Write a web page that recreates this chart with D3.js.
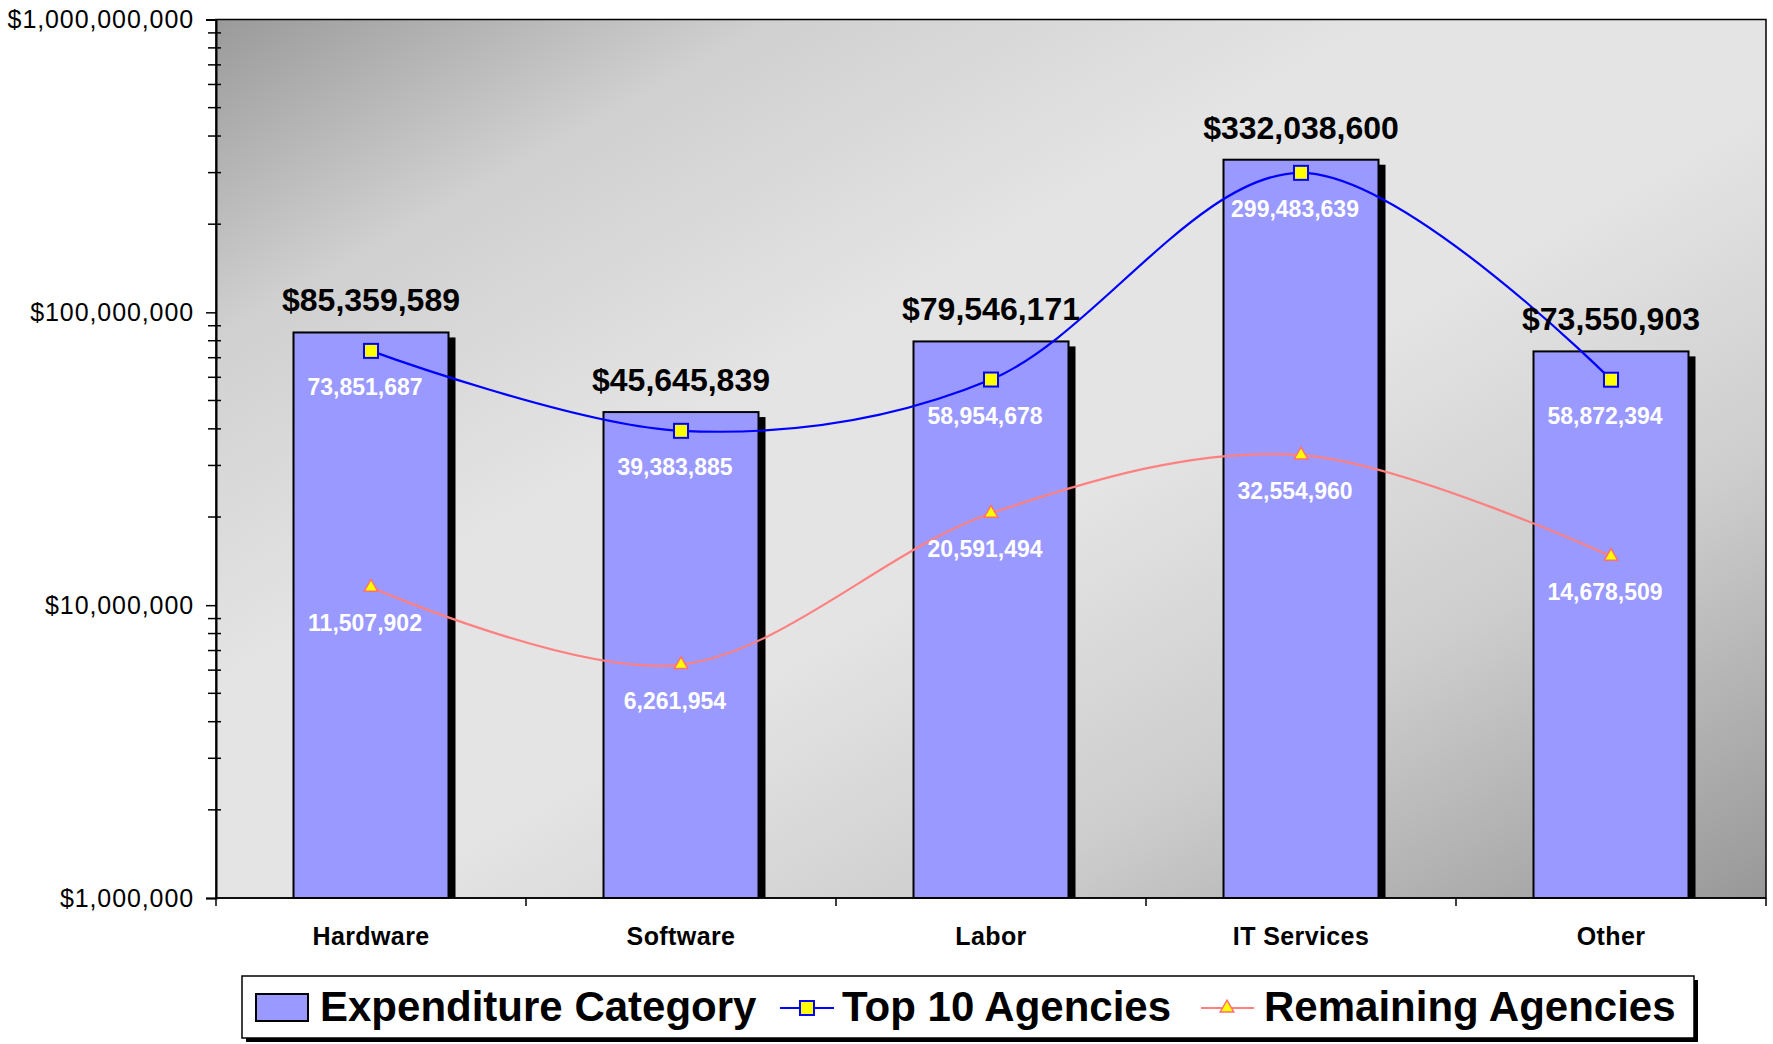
<!DOCTYPE html>
<html>
<head>
<meta charset="utf-8">
<script src="https://cdn.jsdelivr.net/npm/d3@7"></script>
<style>
  html, body { margin: 0; padding: 0; background: #ffffff; }
  svg { display: block; }
  text { font-family: "Liberation Sans", Arial, sans-serif; }
</style>
</head>
<body>
<svg id="chart" width="1773" height="1044"></svg>
<script>
// ---------- data ----------
const categories = ["Hardware", "Software", "Labor", "IT Services", "Other"];
const totals     = [85359589, 45645839, 79546171, 332038600, 73550903];
const top10      = [73851687, 39383885, 58954678, 299483639, 58872394];
const remaining  = [11507902, 6261954, 20591494, 32554960, 14678509];
const yTickValues = [1e6, 1e7, 1e8, 1e9];
const seriesNames = ["Expenditure Category", "Top 10 Agencies", "Remaining Agencies"];

// ---------- layout ----------
const W = 1773, H = 1044;
const plot = { left: 216, top: 19.5, right: 1766, bottom: 898 };

const svg = d3.select("#chart");

const x = d3.scaleBand()
  .domain(categories)
  .range([plot.left, plot.right])
  .paddingInner(0.5)
  .paddingOuter(0.25);

const y = d3.scaleLog()
  .domain([1e6, 1e9])
  .range([plot.bottom, plot.top]);

const fmt = d3.format(",");

// background gradient
const defs = svg.append("defs");
const grad = defs.append("linearGradient")
  .attr("id", "bg").attr("x1", 0).attr("y1", 0).attr("x2", 1).attr("y2", 1);
[[0, "#9a9a9a"], [0.18, "#d0d0d0"], [0.38, "#e4e4e4"], [0.55, "#e4e4e4"], [0.75, "#cdcdcd"], [1, "#989898"]]
  .forEach(([o, c]) => grad.append("stop").attr("offset", o).attr("stop-color", c));

svg.append("rect")
  .attr("x", plot.left).attr("y", plot.top)
  .attr("width", plot.right - plot.left).attr("height", plot.bottom - plot.top)
  .attr("fill", "url(#bg)")
  .attr("stroke", "#000").attr("stroke-width", 1.5);

// ---------- y axis ----------
const yAxis = d3.axisLeft(y)
  .tickValues(yTickValues)
  .tickSize(10)
  .tickPadding(12)
  .tickFormat(d => "$" + fmt(d));

const gy = svg.append("g")
  .attr("transform", `translate(${plot.left},0)`)
  .call(yAxis);
gy.select(".domain").attr("stroke", "#000").attr("stroke-width", 2);
gy.selectAll(".tick line").attr("stroke", "#000").attr("stroke-width", 1.5);
gy.selectAll(".tick text")
  .attr("font-size", 25)
  .attr("letter-spacing", 0.9)
  .attr("fill", "#000")
  .attr("font-family", "Liberation Sans, Arial, sans-serif");

// minor ticks
const minor = [];
for (let e = 6; e < 9; e++) for (let m = 2; m <= 9; m++) minor.push(m * Math.pow(10, e));
svg.append("g").selectAll("line").data(minor).join("line")
  .attr("x1", plot.left - 8).attr("x2", plot.left + 5)
  .attr("y1", d => y(d)).attr("y2", d => y(d))
  .attr("stroke", "#000").attr("stroke-width", 1.5);

// ---------- x axis ----------
const boundaries = d3.range(categories.length + 1).map(i => plot.left + i * (plot.right - plot.left) / categories.length);
svg.append("line")
  .attr("x1", plot.left).attr("x2", plot.right)
  .attr("y1", plot.bottom).attr("y2", plot.bottom)
  .attr("stroke", "#000").attr("stroke-width", 1.5);
svg.append("g").selectAll("line").data(boundaries).join("line")
  .attr("x1", d => d).attr("x2", d => d)
  .attr("y1", plot.bottom).attr("y2", plot.bottom + 8)
  .attr("stroke", "#000").attr("stroke-width", 1.5);
svg.append("g").selectAll("text").data(categories).join("text")
  .attr("x", d => x(d) + x.bandwidth() / 2)
  .attr("y", 945)
  .attr("text-anchor", "middle")
  .attr("font-size", 25)
  .attr("font-weight", "bold")
  .attr("letter-spacing", 0.4)
  .text(d => d);

// ---------- bars ----------
const barData = categories.map((c, i) => ({ c, v: totals[i] }));
const gBars = svg.append("g");
gBars.selectAll("rect.shadow").data(barData).join("rect")
  .attr("class", "shadow")
  .attr("x", d => x(d.c) + 7)
  .attr("y", d => y(d.v) + 5)
  .attr("width", x.bandwidth())
  .attr("height", d => plot.bottom - y(d.v) - 5)
  .attr("fill", "#000");
gBars.selectAll("rect.bar").data(barData).join("rect")
  .attr("class", "bar")
  .attr("x", d => x(d.c))
  .attr("y", d => y(d.v))
  .attr("width", x.bandwidth())
  .attr("height", d => plot.bottom - y(d.v))
  .attr("fill", "#9999ff")
  .attr("stroke", "#000").attr("stroke-width", 2);

// ---------- lines ----------
const cx = c => x(c) + x.bandwidth() / 2;
const lineGen = d3.line()
  .x(d => cx(d.c))
  .y(d => y(d.v))
  .curve(d3.curveCatmullRom.alpha(0));

const top10Data = categories.map((c, i) => ({ c, v: top10[i] }));
const remData = categories.map((c, i) => ({ c, v: remaining[i] }));

svg.append("path").datum(remData)
  .attr("d", lineGen).attr("fill", "none")
  .attr("stroke", "#ff8080").attr("stroke-width", 2.2);
svg.append("path").datum(top10Data)
  .attr("d", lineGen).attr("fill", "none")
  .attr("stroke", "#0000ff").attr("stroke-width", 2.2);

// markers
const sq = 14;
svg.append("g").selectAll("rect").data(top10Data).join("rect")
  .attr("x", d => cx(d.c) - sq / 2)
  .attr("y", d => y(d.v) - sq / 2)
  .attr("width", sq).attr("height", sq)
  .attr("fill", "#ffff00").attr("stroke", "#0000ff").attr("stroke-width", 2);

const tri = d3.symbol().type(d3.symbolTriangle).size(80);
svg.append("g").selectAll("path").data(remData).join("path")
  .attr("d", tri)
  .attr("transform", d => `translate(${cx(d.c)},${y(d.v)})`)
  .attr("fill", "#ffff00").attr("stroke", "#ff7070").attr("stroke-width", 1.5);

// ---------- labels ----------
svg.append("g").selectAll("text").data(barData).join("text")
  .attr("x", d => cx(d.c))
  .attr("y", d => y(d.v) - 21)
  .attr("text-anchor", "middle")
  .attr("font-size", 32)
  .attr("font-weight", "bold")
  .attr("fill", "#000")
  .text(d => "$" + fmt(d.v));

const lineLabel = (data) => svg.append("g").selectAll("text").data(data).join("text")
  .attr("x", d => cx(d.c) - 6)
  .attr("y", d => y(d.v) + 44)
  .attr("text-anchor", "middle")
  .attr("font-size", 23)
  .attr("font-weight", "bold")
  .attr("fill", "#ffffff")
  .text(d => fmt(d.v));
lineLabel(top10Data);
lineLabel(remData);

// ---------- legend ----------
const lg = svg.append("g");
const lgBox = { x: 242, y: 976, w: 1452, h: 62 };
lg.append("rect")
  .attr("x", lgBox.x + 4).attr("y", lgBox.y + 4)
  .attr("width", lgBox.w).attr("height", lgBox.h)
  .attr("fill", "#000");
lg.append("rect")
  .attr("x", lgBox.x).attr("y", lgBox.y)
  .attr("width", lgBox.w).attr("height", lgBox.h)
  .attr("fill", "#fff").attr("stroke", "#000").attr("stroke-width", 1.5);

const baseY = 1021;
lg.append("rect")
  .attr("x", 256).attr("y", 994).attr("width", 52).attr("height", 27)
  .attr("fill", "#9999ff").attr("stroke", "#000").attr("stroke-width", 2);
lg.append("text").attr("x", 320).attr("y", baseY)
  .attr("font-size", 42).attr("font-weight", "bold").text(seriesNames[0]);

lg.append("line").attr("x1", 780).attr("x2", 834).attr("y1", 1008).attr("y2", 1008)
  .attr("stroke", "#0000ff").attr("stroke-width", 2.2);
lg.append("rect").attr("x", 800).attr("y", 1001).attr("width", 14).attr("height", 14)
  .attr("fill", "#ffff00").attr("stroke", "#0000ff").attr("stroke-width", 2);
lg.append("text").attr("x", 842).attr("y", baseY)
  .attr("font-size", 42).attr("font-weight", "bold").text(seriesNames[1]);

lg.append("line").attr("x1", 1201).attr("x2", 1254).attr("y1", 1008).attr("y2", 1008)
  .attr("stroke", "#ff8080").attr("stroke-width", 2.2);
lg.append("path").attr("d", tri).attr("transform", "translate(1227,1008)")
  .attr("fill", "#ffff00").attr("stroke", "#ff7070").attr("stroke-width", 1.5);
lg.append("text").attr("x", 1264).attr("y", baseY)
  .attr("font-size", 42).attr("font-weight", "bold").text(seriesNames[2]);
</script>
</body>
</html>
